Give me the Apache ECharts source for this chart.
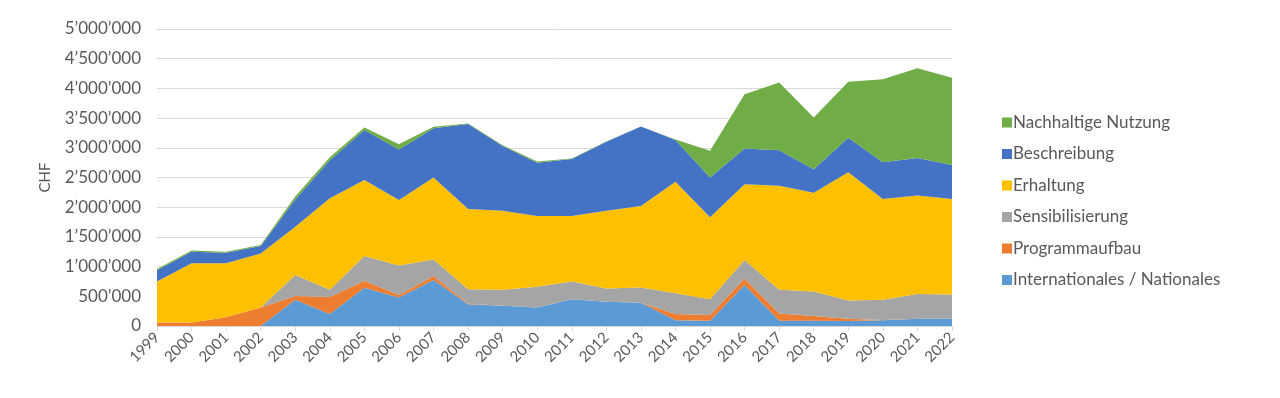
<!DOCTYPE html>
<html>
<head>
<meta charset="utf-8">
<script src="https://cdn.jsdelivr.net/npm/echarts@6/dist/echarts.min.js"></script>
<style>
  html, body { margin: 0; padding: 0; background: #fff; }
  #chart { width: 1280px; height: 398px; }
</style>
</head>
<body>
<div id="chart"></div>
<script>
  const years = ['1999','2000','2001','2002','2003','2004','2005','2006','2007','2008','2009','2010',
                 '2011','2012','2013','2014','2015','2016','2017','2018','2019','2020','2021','2022'];
  const internationales = [0,0,0,0,440000,200000,645000,480000,775000,365000,340000,310000,
                           450000,410000,390000,95000,90000,690000,90000,90000,85000,95000,120000,120000];
  const programmaufbau = [60000,60000,146000,310000,65000,290000,115000,40000,65000,10000,0,0,
                          0,0,0,105000,95000,110000,120000,80000,35000,5000,0,0];
  const sensibilisierung = [0,0,0,0,355000,120000,420000,500000,280000,245000,270000,350000,
                            300000,220000,260000,350000,265000,310000,400000,410000,310000,340000,420000,410000];
  const erhaltung = [690000,995000,909000,910000,810000,1540000,1280000,1100000,1380000,1350000,1330000,1190000,
                     1100000,1310000,1370000,1880000,1380000,1275000,1750000,1665000,2160000,1700000,1655000,1610000];
  const beschreibung = [190000,195000,180000,125000,460000,640000,840000,850000,830000,1430000,1090000,900000,
                        960000,1160000,1340000,700000,670000,605000,600000,395000,580000,615000,635000,570000];
  const nachhaltig = [20000,20000,15000,20000,50000,50000,40000,90000,25000,10000,15000,20000,
                      10000,5000,0,10000,450000,910000,1140000,870000,940000,1400000,1510000,1470000];
  const yTicks = [0,500000,1000000,1500000,2000000,2500000,3000000,3500000,4000000,4500000,5000000];

  const font = 'Lato, "Open Sans", sans-serif';
  const textColor = '#595959';

  function fmt(v) {
    return v === 0 ? '0' : String(v).replace(/\B(?=(\d{3})+(?!\d))/g, '\u2019');
  }

  function area(name, data, color) {
    return {
      name: name,
      type: 'line',
      stack: 'total',
      data: data,
      symbol: 'none',
      lineStyle: { width: 0 },
      areaStyle: { color: color, opacity: 1 },
      itemStyle: { color: color },
      emphasis: { disabled: true }
    };
  }

  const mychart = echarts.init(document.getElementById('chart'));
  const option = {
    animation: false,
    textStyle: { fontFamily: font },
    grid: { left: 157, right: 328, top: 29, bottom: 72, containLabel: false },
    legend: {
      orient: 'vertical',
      left: 997,
      top: 109,
      itemWidth: 10,
      itemHeight: 10,
      itemGap: 14.5,
      icon: 'rect',
      textStyle: { color: textColor, fontSize: 17, fontFamily: font, padding: [0, 0, 0, -4] },
      data: ['Nachhaltige Nutzung', 'Beschreibung', 'Erhaltung', 'Sensibilisierung',
             'Programmaufbau', 'Internationales / Nationales']
    },
    xAxis: {
      type: 'category',
      data: years,
      boundaryGap: false,
      axisLine: { lineStyle: { color: '#d9d9d9' } },
      axisTick: { show: true, length: 5, lineStyle: { color: '#d9d9d9' } },
      axisLabel: { color: textColor, fontSize: 15, rotate: 45, margin: 9, interval: 0 },
      splitLine: { show: false }
    },
    yAxis: {
      type: 'value',
      min: yTicks[0],
      max: yTicks[yTicks.length - 1],
      interval: yTicks[1] - yTicks[0],
      name: 'CHF',
      nameLocation: 'middle',
      nameRotate: 90,
      nameGap: 104,
      nameTextStyle: { color: textColor, fontSize: 15 },
      axisLine: { show: false },
      axisTick: { show: false },
      axisLabel: { color: textColor, fontSize: 17, margin: 16, formatter: fmt },
      splitLine: { lineStyle: { color: '#d9d9d9', width: 1 } }
    },
    series: [
      area('Internationales / Nationales', internationales, '#5B9BD5'),
      area('Programmaufbau', programmaufbau, '#ED7D31'),
      area('Sensibilisierung', sensibilisierung, '#A5A5A5'),
      area('Erhaltung', erhaltung, '#FFC000'),
      area('Beschreibung', beschreibung, '#4472C4'),
      area('Nachhaltige Nutzung', nachhaltig, '#70AD47')
    ]
  };
  mychart.setOption(option);
</script>
</body>
</html>
